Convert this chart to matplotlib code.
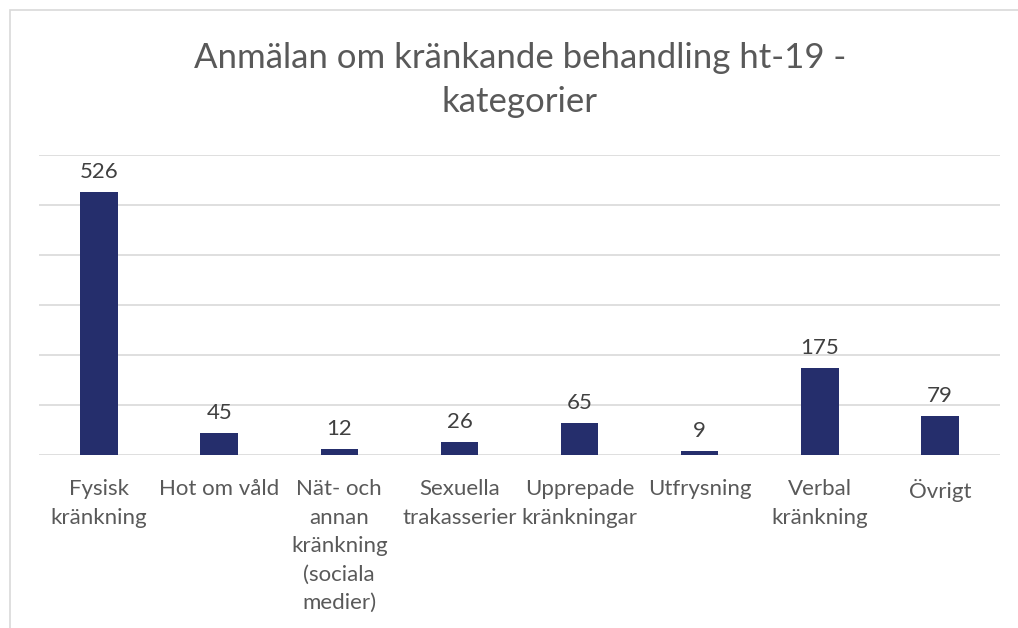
import matplotlib
matplotlib.use("Agg")
import matplotlib.pyplot as plt
from matplotlib.patches import Rectangle

categories = ["Fysisk\nkränkning", "Hot om våld", "Nät- och\nannan\nkränkning\n(sociala\nmedier)",
              "Sexuella\ntrakasserier", "Upprepade\nkränkningar", "Utfrysning",
              "Verbal\nkränkning", "Övrigt"]
values = [526, 45, 12, 26, 65, 9, 175, 79]
title = "Anmälan om kränkande behandling ht-19 -\nkategorier"

plt.rcParams['font.family'] = ['Lato', 'DejaVu Sans']

W, H = 1018, 628
fig = plt.figure(figsize=(W / 100, H / 100), dpi=100)
fig.patch.set_facecolor("white")

# chart border (extends beyond image right/bottom)
fig.add_artist(Rectangle((10 / W, -0.1), 1.2, (H - 10) / H + 0.1, transform=fig.transFigure,
                         fill=False, edgecolor="#d9d9d9", linewidth=1.2))

ax = fig.add_axes([39 / W, (H - 455) / H, (1000 - 39) / W, 300 / H])
x = list(range(len(values)))
bars = ax.bar(x, values, width=0.313, color="#252e6c", zorder=3)
ax.set_xlim(-0.5, len(values) - 0.5)
ax.set_ylim(0, 600)
ax.set_yticks(range(0, 601, 100))
ax.yaxis.grid(True, color="#d9d9d9", linewidth=1.2, zorder=0)
ax.tick_params(axis="y", left=False, labelleft=False)
ax.tick_params(axis="x", bottom=False, pad=14)
for s in ["top", "right", "left", "bottom"]:
    ax.spines[s].set_visible(False)
ax.set_xticks(x)
ax.set_xticklabels(categories, fontsize=16, color="#595959", linespacing=1.53, va="top")

for xi, v in zip(x, values):
    ax.annotate(str(v), (xi, v), xytext=(0, 7), textcoords="offset points",
                ha="center", va="bottom", fontsize=16, color="#404040")

fig.text(520 / W, 1 - 80 / H, title, ha="center", va="center", fontsize=25,
         color="#595959", linespacing=1.5)

fig.savefig("out.png", dpi=100)
